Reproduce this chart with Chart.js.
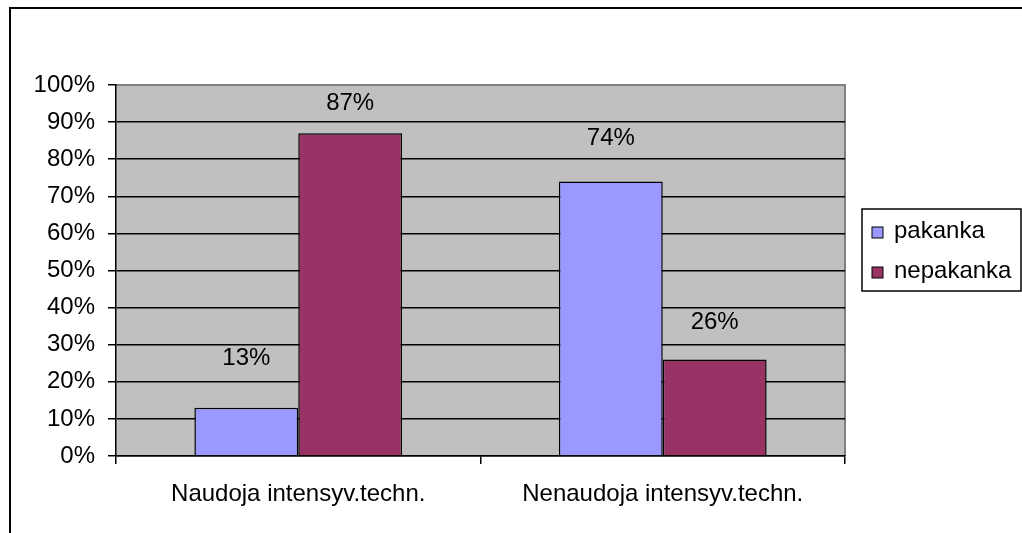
<!DOCTYPE html>
<html><head><meta charset="utf-8">
<script src="https://cdn.jsdelivr.net/npm/chart.js@4"></script>
<style>html,body{margin:0;padding:0;background:#fff}#wrap{width:1022px;height:533px;position:relative}</style>
</head><body><div id="wrap"><canvas id="c" width="1022" height="533"></canvas></div>
<script>
const categories = ['Naudoja intensyv.techn.', 'Nenaudoja intensyv.techn.'];
const seriesNames = ['pakanka', 'nepakanka'];
const pakanka = [13, 74];
const nepakanka = [87, 26];
const yTicks = [0, 10, 20, 30, 40, 50, 60, 70, 80, 90, 100];
const colors = ['#9999FF', '#993366'];
const labelLift = [[49, 43], [30, 37]]; // px above bar top, per series/category
const FONT = 'Liberation Sans, Arial, sans-serif';
const FS = 24;

const bgPlugin = {
  id: 'bg',
  beforeDraw(chart) {
    const {ctx, chartArea: a} = chart;
    ctx.save();
    ctx.fillStyle = '#fff';
    ctx.fillRect(0, 0, chart.width, chart.height);
    ctx.strokeStyle = '#000'; ctx.lineWidth = 2;
    ctx.beginPath();
    ctx.moveTo(10, 540); ctx.lineTo(10, 8); ctx.lineTo(1030, 8);
    ctx.stroke();
    ctx.fillStyle = '#C0C0C0';
    ctx.fillRect(a.left, a.top, a.right - a.left, a.bottom - a.top);
    ctx.strokeStyle = '#808080'; ctx.lineWidth = 2;
    ctx.beginPath();
    ctx.moveTo(a.left, a.top); ctx.lineTo(a.right, a.top); ctx.lineTo(a.right, a.bottom);
    ctx.stroke();
    ctx.restore();
  },
  afterDraw(chart) {
    const ctx = chart.ctx;
    ctx.save();
    ctx.font = FS + 'px ' + FONT;
    ctx.fillStyle = '#000';
    ctx.textAlign = 'center'; ctx.textBaseline = 'middle';
    chart.data.datasets.forEach((ds, di) => {
      chart.getDatasetMeta(di).data.forEach((bar, i) => {
        ctx.fillText(ds.data[i] + '%', bar.x, bar.y - labelLift[di][i]);
      });
    });
    const lx = 862, ly = 209, lw = 159, lh = 82;
    ctx.fillStyle = '#fff';
    ctx.fillRect(lx, ly, lw, lh);
    ctx.strokeStyle = '#000'; ctx.lineWidth = 1.5;
    ctx.strokeRect(lx, ly, lw, lh);
    ctx.textAlign = 'left';
    seriesNames.forEach((n, k) => {
      const cy = ly + 22 + k * 40;
      ctx.fillStyle = colors[k];
      ctx.fillRect(lx + 10, cy - 4, 11, 11);
      ctx.strokeStyle = '#000'; ctx.lineWidth = 1;
      ctx.strokeRect(lx + 10, cy - 4, 11, 11);
      ctx.fillStyle = '#000';
      ctx.fillText(n, lx + 32, cy);
    });
    ctx.restore();
  }
};

new Chart(document.getElementById('c'), {
  type: 'bar',
  data: {
    labels: categories,
    datasets: [
      {label: seriesNames[0], data: pakanka, backgroundColor: colors[0], borderColor: '#000', borderWidth: 1.5},
      {label: seriesNames[1], data: nepakanka, backgroundColor: colors[1], borderColor: '#000', borderWidth: 1.5}
    ]
  },
  options: {
    responsive: false, animation: false,
    layout: {padding: {left: 0, top: 85, right: 177, bottom: 0}},
    plugins: {legend: {display: false}, tooltip: {enabled: false}},
    datasets: {bar: {categoryPercentage: 0.57, barPercentage: 1}},
    scales: {
      x: {
        grid: {offset: true, drawOnChartArea: false, drawTicks: true, tickLength: 8, color: '#000', lineWidth: 1.5},
        border: {color: '#000', width: 1.5},
        ticks: {color: '#000', font: {family: FONT, size: FS}, padding: 16, maxRotation: 0},
        afterFit(s) { s.height = 77; }
      },
      y: {
        min: 0, max: 100,
        afterBuildTicks(s) { s.ticks = yTicks.map(v => ({value: v})); },
        grid: {color: ctx => (ctx.tick && ctx.tick.value === 100) ? '#808080' : '#000', lineWidth: 1.5, tickLength: 8, tickColor: '#000'},
        border: {color: '#000', width: 1.5},
        ticks: {color: '#000', font: {family: FONT, size: FS}, padding: 13, callback: v => v + '%'},
        afterFit(s) { s.width = 116; }
      }
    }
  },
  plugins: [bgPlugin]
});
</script></body></html>
